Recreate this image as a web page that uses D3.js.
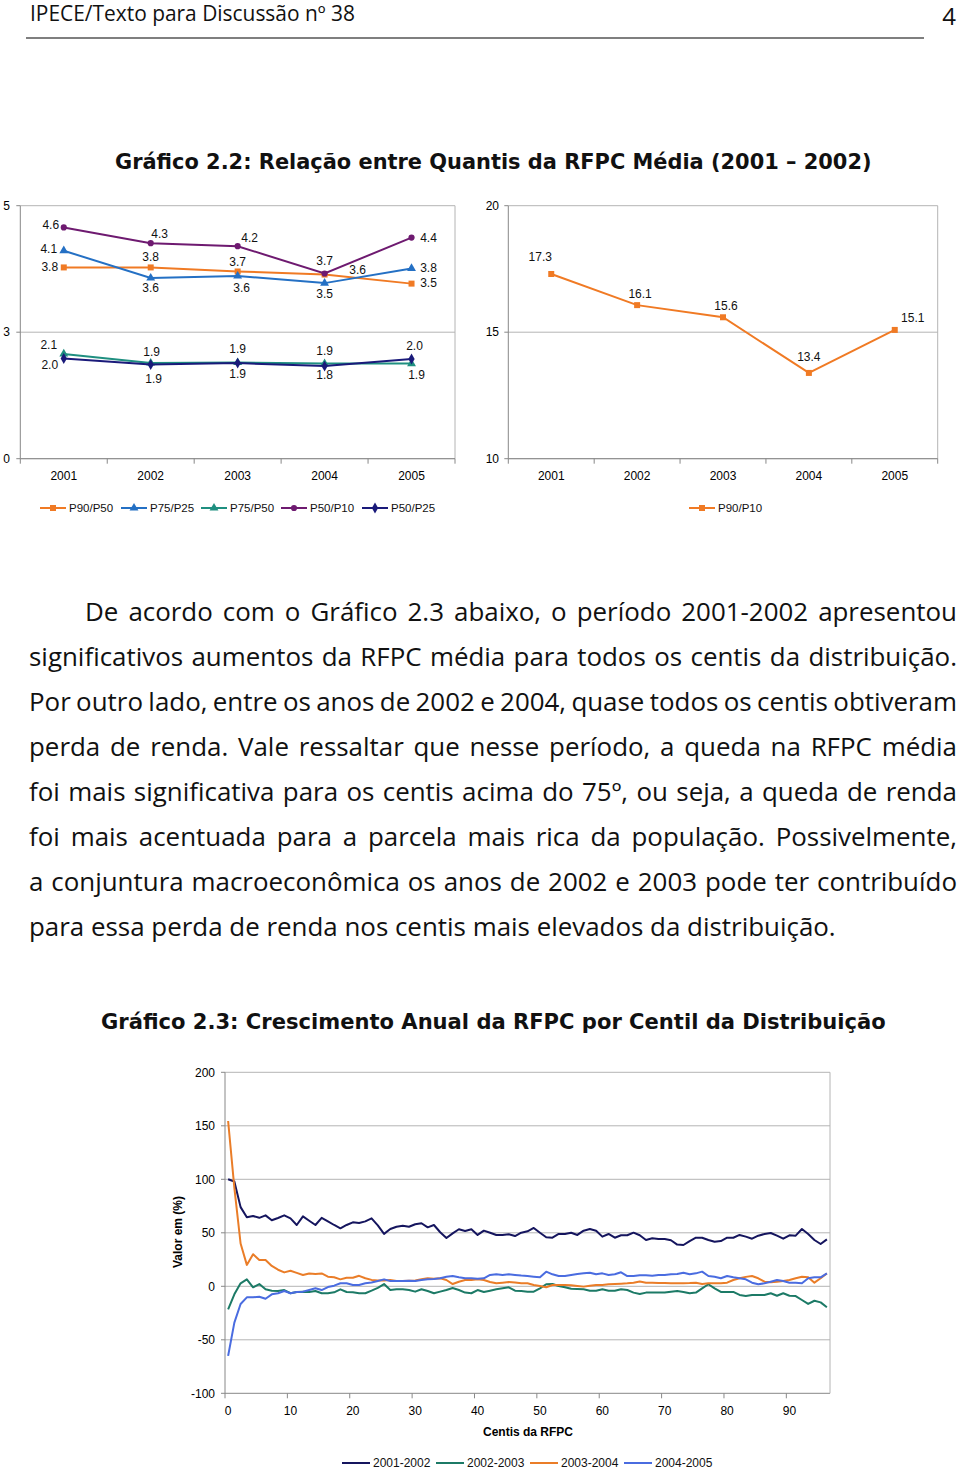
<!DOCTYPE html>
<html>
<head>
<meta charset="utf-8">
<script src="https://cdn.jsdelivr.net/npm/d3@7"></script>
<style>
body { margin: 0; background: #fff; }
svg { display: block; }
</style>
</head>
<body>
<svg width="960" height="1471"></svg>
<script>
// ---- data ----
var years = ["2001", "2002", "2003", "2004", "2005"];
var ratioNames = ["P90/P50", "P75/P25", "P75/P50", "P50/P10", "P50/P25"];
var p90p50 = [3.78, 3.78, 3.70, 3.64, 3.46];
var p75p25 = [4.11, 3.57, 3.61, 3.47, 3.76];
var p75p50 = [2.07, 1.89, 1.90, 1.88, 1.88];
var p50p10 = [4.57, 4.26, 4.20, 3.66, 4.37];
var p50p25 = [1.98, 1.86, 1.89, 1.83, 1.97];
var p90p10 = [17.3, 16.07, 15.59, 13.39, 15.09];
var leftTicks = [0, 2.5, 5];
var rightTicks = [10, 15, 20];

var centis = [0,1,2,3,4,5,6,7,8,9,10,11,12,13,14,15,16,17,18,19,20,21,22,23,24,25,26,27,28,29,30,31,32,33,34,35,36,37,38,39,40,41,42,43,44,45,46,47,48,49,50,51,52,53,54,55,56,57,58,59,60,61,62,63,64,65,66,67,68,69,70,71,72,73,74,75,76,77,78,79,80,81,82,83,84,85,86,87,88,89,90,91,92,93,94,95,96];
var xTickLabels = [0, 10, 20, 30, 40, 50, 60, 70, 80, 90];
var yTicksBottom = [200, 150, 100, 50, 0, -50, -100];
var periodNames = ["2001-2002", "2002-2003", "2003-2004", "2004-2005"];
var g0102 = [100,98,74,64.5,65.7,64,66.3,61.7,63.8,66.3,63.5,57.3,65.4,61.3,57.3,64,60.7,57.3,54.2,57.3,59.8,59.2,60.7,63.5,57,49,53.5,55.7,56.6,55.7,58,58.9,55.1,57.3,50.5,45.1,49.5,53.3,51.7,53.3,48,52,50.1,48,48,48.6,47,50.1,51.4,54.5,50,45.8,45.4,48.9,48.9,50.1,48,52,53.5,52,46.4,48.9,45.4,47.7,47.7,50.1,47.7,43.3,44.9,44.2,44.2,43,39,38.6,42.3,45.4,45.4,43.3,41.7,42.3,45.4,45.4,48,46.4,44.5,47.3,48.9,49.8,47.3,44.5,47.7,47.3,53.5,48.9,43.3,39.5,43.9];
var g0203 = [-21.5,-7.5,2.8,6.5,-0.9,2.1,-2.8,-4.1,-4.4,-3.5,-6.5,-5.3,-5,-5.3,-4.4,-6.5,-6.5,-5.6,-2.8,-5.3,-5.6,-6.5,-6.5,-4.1,-1.5,2.1,-3.5,-2.8,-2.8,-3.5,-5,-2.8,-4.4,-6.5,-5,-3.5,-1.6,-3.5,-5.9,-6.5,-3.5,-5.3,-4.1,-2.8,-1.9,-0.9,-4.1,-4.5,-5,-5,-1.9,1.9,2.1,0.3,-0.9,-2.2,-2.5,-2.8,-4.1,-4.1,-2.8,-4.1,-4.1,-2.8,-3.5,-5.9,-7.2,-5.9,-5.9,-5.9,-5.9,-5,-4.5,-5.3,-6.5,-5.9,-1.9,1.9,-1.9,-5.3,-5.3,-5.3,-8.1,-9.1,-8.1,-8.1,-8.1,-6.5,-8.8,-6.5,-8.8,-9.1,-12.8,-16.5,-13.5,-15,-19.6];
var g0304 = [154.5,92,40,20,30,24.6,24.6,19,15.5,13,14.5,12.5,10.6,12,11.5,12,9,8.4,6.5,8,8,9.8,7.5,6,5.5,5.5,5.9,5,5,5.2,5.5,6.5,7.5,7,7.5,5.9,2.1,4.3,5.9,6,6.5,5.9,4,2.8,3.4,4,3.5,2.8,2.8,1.2,0.3,-0.9,1.2,1.2,1.2,0.9,0.3,-0.3,0.6,1.2,1.2,1.9,2.1,2.4,2.8,3.4,4.5,3.4,3.4,3.2,3,2.8,2.8,2.8,3,3.4,2.1,2.8,2.8,2.8,3.4,5.9,7.5,8.8,9.6,7.5,4.3,3.7,4.3,5,5.9,7.5,9,8.4,3.4,7.5,12];
var g0405 = [-65,-34,-16.5,-10.3,-10.3,-9.7,-11.6,-7.5,-6.5,-4.4,-6.5,-5.3,-5,-3.5,-1.9,-3.5,-0.7,0.6,2.8,2.8,1.2,1.2,2.8,3.5,5,6.5,5,5,5,5.2,5,5.9,6.5,6.8,7.5,9,9.6,8.4,7.5,7.5,7.1,7.5,10.6,11.2,10.6,11.2,10.6,10,9.6,9,8.4,13.7,11.2,9.6,9.6,10.6,11.5,12.1,12.7,11.2,12.1,10.6,11.2,13.1,9.6,9.6,10.3,10.3,9.9,10.6,10.6,11.3,11.5,12.7,11.2,12.1,13.7,9.6,9,7.5,9.6,8.4,7.5,6.5,3.4,1.9,2.8,4.3,5.9,5,3.4,3.4,2.8,7.5,8.4,8.4,12.1];

var headerText = "IPECE/Texto para Discussão nº 38";
var title1 = "Gráfico 2.2: Relação entre Quantis da RFPC Média (2001 – 2002)";
var title2 = "Gráfico 2.3: Crescimento Anual da RFPC por Centil da Distribuição";
var paragraph = [
	"De acordo com o Gráfico 2.3 abaixo, o período 2001-2002 apresentou",
	"significativos aumentos da RFPC média para todos os centis da distribuição.",
	"Por outro lado, entre os anos de 2002 e 2004, quase todos os centis obtiveram",
	"perda de renda. Vale ressaltar que nesse período, a queda na RFPC média",
	"foi mais significativa para os centis acima do 75º, ou seja, a queda de renda",
	"foi mais acentuada para a parcela mais rica da população. Possivelmente,",
	"a conjuntura macroeconômica os anos de 2002 e 2003 pode ter contribuído",
	"para essa perda de renda nos centis mais elevados da distribuição."
];

// ---- setup ----
var svg = d3.select("svg");
var chartFont = "'Liberation Sans', Arial, sans-serif";
var bodyFont = "'Open Sans', sans-serif";
var titleFont = "'DejaVu Sans', sans-serif";
var gridColor = "#b4b4b4";

//measure text at 100px and scale to a target width
function fitSize(text, family, weight, width) {
	var t = svg.append("text").attr("font-family", family).attr("font-weight", weight)
		.attr("font-size", 100).text(text);
	var w = t.node().getComputedTextLength();
	t.remove();
	return 100 * width / w;
}
function textWidth(text, family, weight, size) {
	var t = svg.append("text").attr("font-family", family).attr("font-weight", weight)
		.attr("font-size", size).text(text);
	var w = t.node().getComputedTextLength();
	t.remove();
	return w;
}

// header
svg.append("text").attr("x", 30).attr("y", 21)
	.attr("font-family", bodyFont).attr("font-size", fitSize(headerText, bodyFont, 400, 325))
	.attr("fill", "#111").text(headerText);
svg.append("text").attr("x", 956).attr("y", 25).attr("text-anchor", "end")
	.attr("font-family", bodyFont).attr("font-size", 24).attr("fill", "#111").text("4");
svg.append("line").attr("x1", 26).attr("x2", 924).attr("y1", 38).attr("y2", 38)
	.attr("stroke", "#555").attr("stroke-width", 1.5);

// titles
svg.append("text").attr("x", 115).attr("y", 169)
	.attr("font-family", titleFont).attr("font-weight", "bold")
	.attr("font-size", fitSize(title1, titleFont, "bold", 757)).attr("fill", "#111").text(title1);
svg.append("text").attr("x", 101).attr("y", 1029)
	.attr("font-family", titleFont).attr("font-weight", "bold")
	.attr("font-size", fitSize(title2, titleFont, "bold", 785)).attr("fill", "#111").text(title2);

// ---- top panels ----
var seriesTop = [
	{name: ratioNames[0], values: p90p50, color: "#f07a24", symbol: d3.symbolSquare, size: 36,
		offs: [[-14,-1],[0,-11],[0,-10],[33,-5],[17,-1]]},
	{name: ratioNames[1], values: p75p25, color: "#2470c4", symbol: d3.symbolTriangle, size: 34,
		offs: [[-15,-2],[0,10],[4,12],[0,11],[17,-1]]},
	{name: ratioNames[2], values: p75p50, color: "#1f8f80", symbol: d3.symbolTriangle, size: 34,
		offs: [[-15,-9],[1,-11],[0,-14],[0,-13],[5,11]]},
	{name: ratioNames[3], values: p50p10, color: "#6e1a70", symbol: d3.symbolCircle, size: 30,
		offs: [[-13,-3],[9,-9],[12,-8],[0,-13],[17,0]]},
	{name: ratioNames[4], values: p50p25, color: "#1a1a7a", symbol: d3.symbolDiamond, size: 34,
		offs: [[-14,6],[3,14],[0,11],[0,9],[3,-13]]}
];
var seriesRight = [
	{name: "P90/P10", values: p90p10, color: "#f07a24", symbol: d3.symbolSquare, size: 36,
		offs: [[-11,-17],[3,-11],[3,-11],[0,-16],[18,-12]]}
];

function drawPanel(x0, x1, domain, ticks, series, labelEnd) {
	var g = svg.append("g");
	var x = d3.scaleBand().domain(years).range([x0, x1]);
	var y = d3.scaleLinear().domain(domain).range([458.7, 205.7]);
	// gridlines + border
	ticks.forEach(function(t) {
		g.append("line").attr("x1", x0).attr("x2", x1).attr("y1", y(t)).attr("y2", y(t))
			.attr("stroke", gridColor);
		g.append("line").attr("x1", x0 - 4).attr("x2", x0).attr("y1", y(t)).attr("y2", y(t))
			.attr("stroke", "#888");
		g.append("text").attr("x", labelEnd).attr("y", y(t)).attr("dy", "0.35em")
			.attr("text-anchor", "end").attr("font-family", chartFont).attr("font-size", 12)
			.text(Math.round(t));
	});
	g.append("line").attr("x1", x1).attr("x2", x1).attr("y1", y.range()[1]).attr("y2", y.range()[0])
		.attr("stroke", gridColor);
	g.append("line").attr("x1", x0).attr("x2", x0).attr("y1", y.range()[1]).attr("y2", y.range()[0])
		.attr("stroke", "#888");
	g.append("line").attr("x1", x0).attr("x2", x1).attr("y1", y.range()[0]).attr("y2", y.range()[0])
		.attr("stroke", "#888");
	// category ticks
	for (var i = 0; i <= years.length; i++) {
		var tx = x0 + i * x.bandwidth();
		g.append("line").attr("x1", tx).attr("x2", tx).attr("y1", y.range()[0]).attr("y2", y.range()[0] + 5)
			.attr("stroke", "#888");
	}
	g.selectAll(".yr").data(years).enter().append("text")
		.attr("x", function(d) { return x(d) + x.bandwidth() / 2; })
		.attr("y", 480).attr("text-anchor", "middle")
		.attr("font-family", chartFont).attr("font-size", 12).text(function(d) { return d; });

	var line = d3.line()
		.x(function(d, i) { return x(years[i]) + x.bandwidth() / 2; })
		.y(function(d) { return y(d); });

	series.forEach(function(s) {
		g.append("path").attr("d", line(s.values)).attr("fill", "none")
			.attr("stroke", s.color).attr("stroke-width", 2);
		s.values.forEach(function(v, i) {
			var px = x(years[i]) + x.bandwidth() / 2, py = y(v);
			g.append("path").attr("d", d3.symbol(s.symbol, s.size)())
				.attr("transform", "translate(" + px + "," + py + ")").attr("fill", s.color);
			g.append("text").attr("x", px + s.offs[i][0]).attr("y", py + s.offs[i][1])
				.attr("dy", "0.35em").attr("text-anchor", "middle")
				.attr("font-family", chartFont).attr("font-size", 12).attr("fill", "#111")
				.text(v.toFixed(1));
		});
	});
}

drawPanel(20.3, 455, [0, 5], leftTicks, seriesTop, 10);
drawPanel(508.3, 937.7, [10, 20], rightTicks, seriesRight, 499);

// legends for top panels
function legendItem(lx, ly, s, label) {
	svg.append("line").attr("x1", lx).attr("x2", lx + 26).attr("y1", ly).attr("y2", ly)
		.attr("stroke", s.color).attr("stroke-width", 2);
	svg.append("path").attr("d", d3.symbol(s.symbol, s.size)())
		.attr("transform", "translate(" + (lx + 13) + "," + ly + ")").attr("fill", s.color);
	svg.append("text").attr("x", lx + 29).attr("y", ly).attr("dy", "0.35em")
		.attr("font-family", chartFont).attr("font-size", 11.5).attr("fill", "#111").text(label);
}
var legendX = [40, 121, 201, 281, 362];
seriesTop.forEach(function(s, i) { legendItem(legendX[i], 508, s, s.name); });
legendItem(689, 508, seriesRight[0], seriesRight[0].name);

// ---- paragraph, justified ----
var lastLine = paragraph[paragraph.length - 1];
var bodySize = fitSize(lastLine, bodyFont, 400, 807);
paragraph.forEach(function(text, li) {
	var left = li === 0 ? 85 : 29, right = 957;
	var base = 621 + li * 45;
	if (li === paragraph.length - 1) {
		svg.append("text").attr("x", left).attr("y", base).attr("font-family", bodyFont)
			.attr("font-size", bodySize).attr("fill", "#111").text(text);
		return;
	}
	var words = text.split(" ");
	var widths = words.map(function(w) { return textWidth(w, bodyFont, 400, bodySize); });
	var gap = (right - left - d3.sum(widths)) / (words.length - 1);
	var cx = left;
	words.forEach(function(w, i) {
		svg.append("text").attr("x", cx).attr("y", base).attr("font-family", bodyFont)
			.attr("font-size", bodySize).attr("fill", "#111").text(w);
		cx += widths[i] + gap;
	});
});

// ---- bottom chart ----
var bx0 = 225, bx1 = 830, by0 = 1393.3, by1 = 1072.3;
var bx = d3.scaleBand().domain(centis).range([bx0, bx1]);
var by = d3.scaleLinear().domain([-100, 200]).range([by0, by1]);
var bg = svg.append("g");

yTicksBottom.forEach(function(t) {
	bg.append("line").attr("x1", bx0).attr("x2", bx1).attr("y1", by(t)).attr("y2", by(t))
		.attr("stroke", t === -100 ? "#888" : gridColor);
	bg.append("line").attr("x1", bx0 - 4).attr("x2", bx0).attr("y1", by(t)).attr("y2", by(t))
		.attr("stroke", "#888");
	bg.append("text").attr("x", 215).attr("y", by(t)).attr("dy", "0.35em").attr("text-anchor", "end")
		.attr("font-family", chartFont).attr("font-size", 12).text(t);
});
bg.append("line").attr("x1", bx0).attr("x2", bx0).attr("y1", by1).attr("y2", by0).attr("stroke", "#888");
bg.append("line").attr("x1", bx1).attr("x2", bx1).attr("y1", by1).attr("y2", by0).attr("stroke", gridColor);

xTickLabels.forEach(function(c) {
	bg.append("line").attr("x1", bx(c)).attr("x2", bx(c)).attr("y1", by0).attr("y2", by0 + 5)
		.attr("stroke", "#888");
	bg.append("text").attr("x", bx(c) + bx.bandwidth() / 2).attr("y", 1415).attr("text-anchor", "middle")
		.attr("font-family", chartFont).attr("font-size", 12).text(c);
});
bg.append("text").attr("x", 528).attr("y", 1436).attr("text-anchor", "middle")
	.attr("font-family", chartFont).attr("font-size", 12).attr("font-weight", "bold").text("Centis da RFPC");
bg.append("text").attr("transform", "translate(182,1232) rotate(-90)").attr("text-anchor", "middle")
	.attr("font-family", chartFont).attr("font-size", 12).attr("font-weight", "bold").text("Valor em (%)");

var seriesBottom = [
	{name: periodNames[0], values: g0102, color: "#15155e"},
	{name: periodNames[1], values: g0203, color: "#1c7a66"},
	{name: periodNames[2], values: g0304, color: "#ea7d28"},
	{name: periodNames[3], values: g0405, color: "#4a6ce0"}
];
var bline = d3.line()
	.x(function(d, i) { return bx(centis[i]) + bx.bandwidth() / 2; })
	.y(function(d) { return by(d); });

seriesBottom.forEach(function(s, i) {
	bg.append("path").attr("d", bline(s.values)).attr("fill", "none")
		.attr("stroke", s.color).attr("stroke-width", 2).attr("stroke-linejoin", "round");
	var lx = 342 + i * 94;
	bg.append("line").attr("x1", lx).attr("x2", lx + 28).attr("y1", 1463).attr("y2", 1463)
		.attr("stroke", s.color).attr("stroke-width", 2);
	bg.append("text").attr("x", lx + 31).attr("y", 1463).attr("dy", "0.35em")
		.attr("font-family", chartFont).attr("font-size", 12).attr("fill", "#111").text(s.name);
});
</script>
</body>
</html>
